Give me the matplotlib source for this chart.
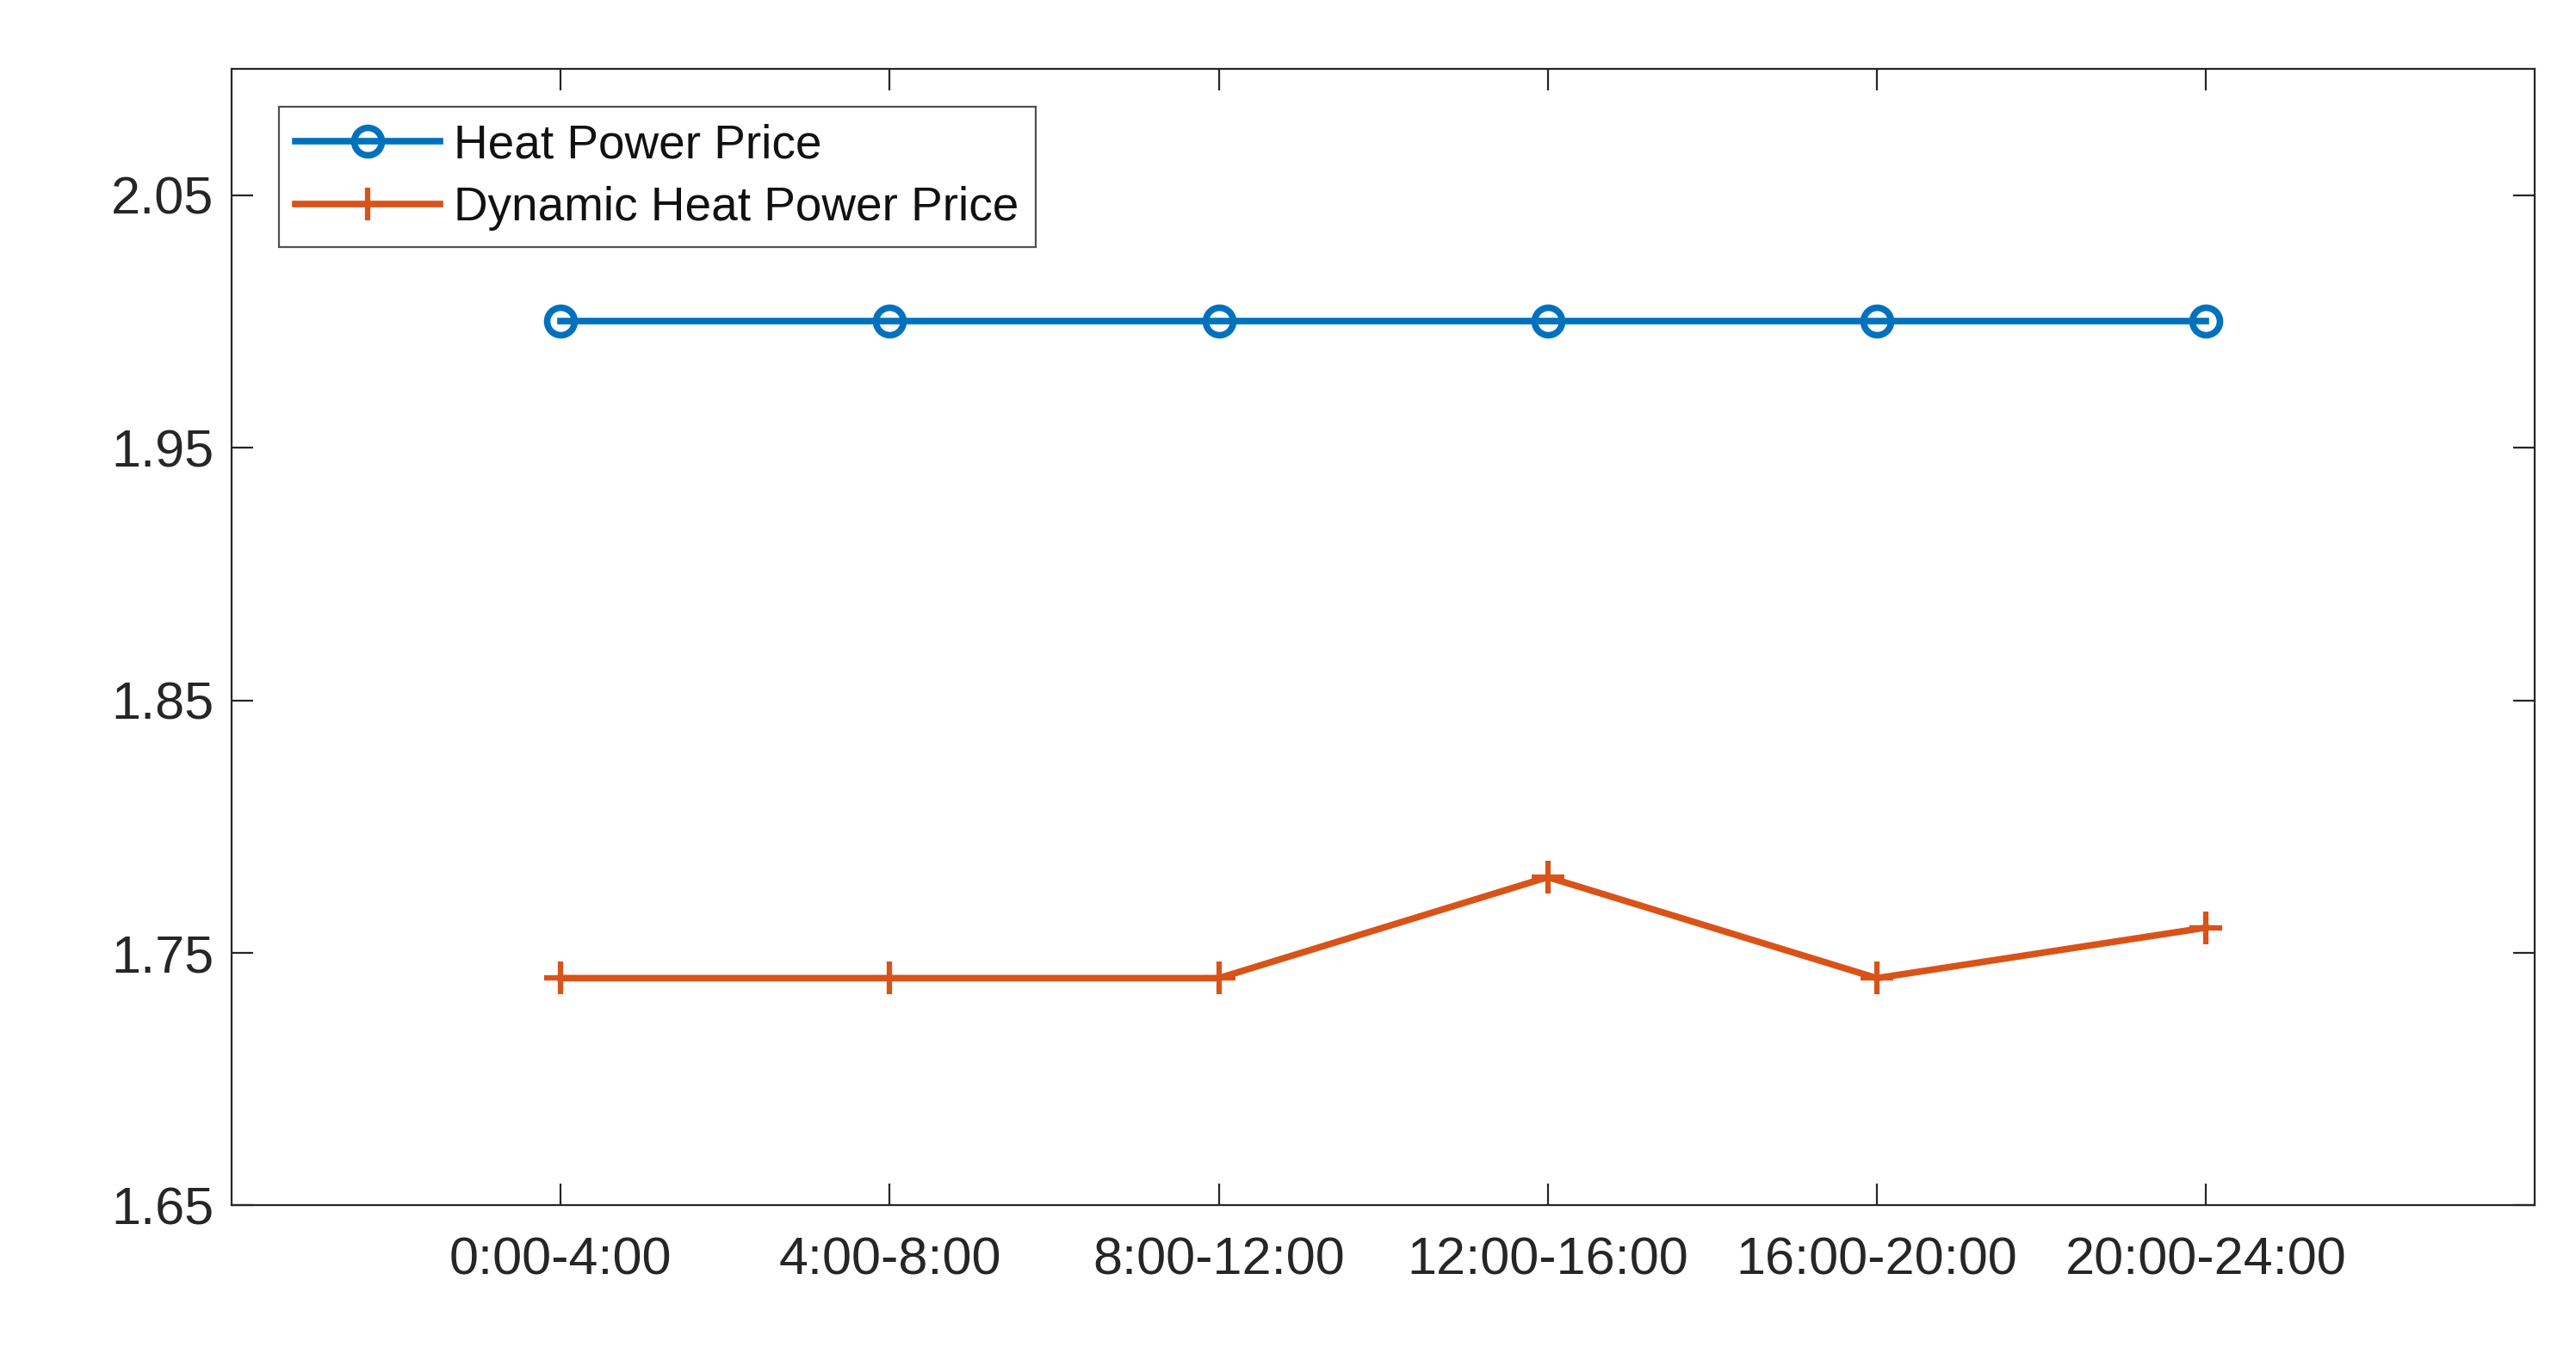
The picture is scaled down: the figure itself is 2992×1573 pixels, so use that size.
import matplotlib
matplotlib.use('Agg')
import matplotlib.pyplot as plt

periods = ['0:00-4:00', '4:00-8:00', '8:00-12:00', '12:00-16:00', '16:00-20:00', '20:00-24:00']
heat_price = [2.0, 2.0, 2.0, 2.0, 2.0, 2.0]
dynamic_price = [1.74, 1.74, 1.74, 1.78, 1.74, 1.76]
yticks = [1.65, 1.75, 1.85, 1.95, 2.05]

plt.rcParams['font.family'] = ['Liberation Sans', 'DejaVu Sans']
axcol = '#262626'

fig = plt.figure(figsize=(29.92, 15.73), dpi=100)
ax = fig.add_axes([0.0899, 0.1097, 0.8942, 0.8394])

x = list(range(1, len(periods) + 1))
ax.plot(x, heat_price, '-o', color='#0072BD', lw=5.5, ms=23, mew=5.5,
        mfc='none', label='Heat Power Price')
ax.plot(x, dynamic_price, '-+', color='#D95319', lw=5.5, ms=28, mew=4.5,
        label='Dynamic Heat Power Price')

ax.set_xlim(0, 7)
ax.set_ylim(1.65, 2.1)
ax.set_xticks(x)
ax.set_xticklabels(periods)
ax.set_yticks(yticks)
ax.set_yticklabels(['%.2f' % v for v in yticks])

for s in ax.spines.values():
    s.set_linewidth(1.6)
    s.set_color(axcol)
ax.tick_params(direction='in', length=18, width=1.6, color=axcol,
               labelsize=44, labelcolor=axcol, top=True, right=True)
ax.tick_params(axis='x', pad=26)
ax.tick_params(axis='y', pad=15)

leg = ax.legend(loc='upper left', bbox_to_anchor=(0.0206, 0.9667), fontsize=39.5,
                frameon=True, fancybox=False, handlelength=3.05,
                handletextpad=0.3, borderpad=0.35, labelspacing=0.38,
                borderaxespad=0)
leg.get_frame().set_edgecolor(axcol)
leg.get_frame().set_linewidth(1.6)
for t in leg.get_texts():
    t.set_color('#111111')

fig.savefig('out.png', dpi=100)
